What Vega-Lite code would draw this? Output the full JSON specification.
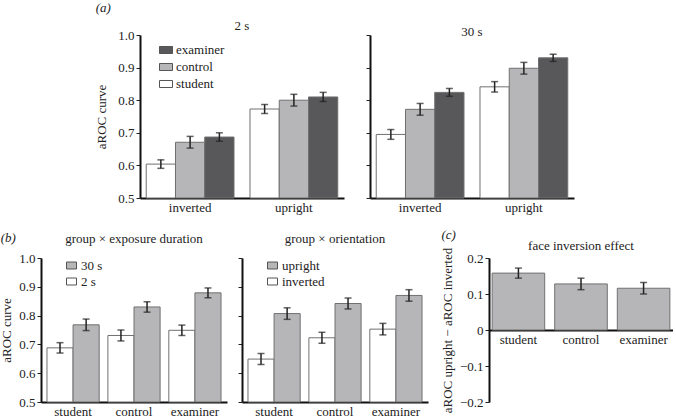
{
  "$schema": "https://vega.github.io/schema/vega-lite/v6.json",
  "padding": {"left": 0, "top": 2, "right": 0, "bottom": 0},
  "background": "white",
  "datasets": {
    "a": [
      {"exposure": "2 s", "orientation": "inverted", "group": "student", "value": 0.604, "err": 0.013},
      {"exposure": "2 s", "orientation": "inverted", "group": "control", "value": 0.671, "err": 0.018},
      {"exposure": "2 s", "orientation": "inverted", "group": "examiner", "value": 0.687, "err": 0.013},
      {"exposure": "2 s", "orientation": "upright", "group": "student", "value": 0.773, "err": 0.014},
      {"exposure": "2 s", "orientation": "upright", "group": "control", "value": 0.800, "err": 0.018},
      {"exposure": "2 s", "orientation": "upright", "group": "examiner", "value": 0.810, "err": 0.014},
      {"exposure": "30 s", "orientation": "inverted", "group": "student", "value": 0.695, "err": 0.015},
      {"exposure": "30 s", "orientation": "inverted", "group": "control", "value": 0.772, "err": 0.018},
      {"exposure": "30 s", "orientation": "inverted", "group": "examiner", "value": 0.824, "err": 0.012},
      {"exposure": "30 s", "orientation": "upright", "group": "student", "value": 0.841, "err": 0.016},
      {"exposure": "30 s", "orientation": "upright", "group": "control", "value": 0.898, "err": 0.018},
      {"exposure": "30 s", "orientation": "upright", "group": "examiner", "value": 0.930, "err": 0.011}
    ],
    "bdur": [
      {"group": "student", "cond": "2 s", "value": 0.688, "err": 0.018},
      {"group": "student", "cond": "30 s", "value": 0.768, "err": 0.020},
      {"group": "control", "cond": "2 s", "value": 0.731, "err": 0.019},
      {"group": "control", "cond": "30 s", "value": 0.830, "err": 0.018},
      {"group": "examiner", "cond": "2 s", "value": 0.749, "err": 0.018},
      {"group": "examiner", "cond": "30 s", "value": 0.879, "err": 0.017}
    ],
    "bori": [
      {"group": "student", "cond": "inverted", "value": 0.649, "err": 0.019},
      {"group": "student", "cond": "upright", "value": 0.807, "err": 0.020},
      {"group": "control", "cond": "inverted", "value": 0.723, "err": 0.019},
      {"group": "control", "cond": "upright", "value": 0.842, "err": 0.019},
      {"group": "examiner", "cond": "inverted", "value": 0.753, "err": 0.020},
      {"group": "examiner", "cond": "upright", "value": 0.870, "err": 0.020}
    ],
    "c": [
      {"group": "student", "value": 0.158, "err": 0.014},
      {"group": "control", "value": 0.128, "err": 0.016},
      {"group": "examiner", "value": 0.116, "err": 0.016}
    ]
  },
  "vconcat": [
    {
      "title": {"text": "(a)", "anchor": "start", "fontStyle": "italic", "offset": 5},
      "bounds": "flush",
      "spacing": 26,
      "resolve": {"scale": {"fill": "independent", "xOffset": "independent"}, "legend": {"fill": "independent"}},
      "hconcat": [
        {
          "width": 204, "height": 163,
          "title": {"text": "2 s", "offset": -4},
          "data": {"name": "a"},
          "transform": [{"filter": "datum.exposure == '2 s'"}],
          "encoding": {
            "x": {"field": "orientation", "type": "nominal", "sort": ["inverted", "upright"], "scale": {"paddingInner": 0.154, "paddingOuter": 0.06}, "axis": {"title": null, "labelAngle": 0, "ticks": false, "labelPadding": 3}},
            "xOffset": {"field": "group", "type": "nominal", "scale": {"domain": ["student", "control", "examiner"], "paddingInner": 0, "paddingOuter": 0}},
            "y": {"field": "value", "type": "quantitative", "scale": {"domain": [0.5, 1.0]}, "axis": {"title": "aROC curve", "values": [0.5, 0.6, 0.7, 0.8, 0.9, 1.0], "format": ".1f", "titlePadding": 9}}
          },
          "layer": [
            {
              "mark": {"type": "bar", "stroke": "#707070", "strokeWidth": 1},
              "encoding": {
                "y2": {"datum": 0.5},
                "fill": {"field": "group", "type": "nominal", "scale": {"domain": ["examiner", "control", "student"], "range": ["#58585a", "#b6b6b8", "#ffffff"]},
                  "legend": {"title": null, "orient": "none", "legendX": 19, "legendY": 8, "symbolType": "M-1,-0.54L1,-0.54L1,0.54L-1,0.54Z", "symbolSize": 169, "symbolStrokeColor": "#555", "symbolStrokeWidth": 1, "labelFontSize": 13, "rowPadding": 3, "labelOffset": 3}}
              }
            },
            {
              "mark": {"type": "errorbar", "ticks": {"size": 7}, "thickness": 1.5, "color": "#222"},
              "encoding": {"yError": {"field": "err"}}
            }
          ]
        },
        {
          "width": 204, "height": 163,
          "title": {"text": "30 s", "offset": -4},
          "data": {"name": "a"},
          "transform": [{"filter": "datum.exposure == '30 s'"}],
          "encoding": {
            "x": {"field": "orientation", "type": "nominal", "sort": ["inverted", "upright"], "scale": {"paddingInner": 0.154, "paddingOuter": 0.06}, "axis": {"title": null, "labelAngle": 0, "ticks": false, "labelPadding": 3}},
            "xOffset": {"field": "group", "type": "nominal", "scale": {"domain": ["student", "control", "examiner"], "paddingInner": 0, "paddingOuter": 0}},
            "y": {"field": "value", "type": "quantitative", "scale": {"domain": [0.5, 1.0]}, "axis": {"title": null, "labels": false, "values": [0.5, 0.6, 0.7, 0.8, 0.9, 1.0]}}
          },
          "layer": [
            {
              "mark": {"type": "bar", "stroke": "#707070", "strokeWidth": 1},
              "encoding": {
                "y2": {"datum": 0.5},
                "fill": {"field": "group", "type": "nominal", "scale": {"domain": ["examiner", "control", "student"], "range": ["#58585a", "#b6b6b8", "#ffffff"]}, "legend": null}
              }
            },
            {
              "mark": {"type": "errorbar", "ticks": {"size": 7}, "thickness": 1.5, "color": "#222"},
              "encoding": {"yError": {"field": "err"}}
            }
          ]
        }
      ]
    },
    {
      "spacing": 13,
      "resolve": {"scale": {"fill": "independent", "xOffset": "independent"}, "legend": {"fill": "independent"}},
      "hconcat": [
        {
          "title": {"text": "(b)", "anchor": "start", "fontStyle": "italic", "offset": -12},
          "bounds": "flush",
          "spacing": 15,
          "resolve": {"scale": {"fill": "independent", "xOffset": "independent"}, "legend": {"fill": "independent"}},
          "hconcat": [
            {
              "width": 186, "height": 144,
              "title": {"text": "group × exposure duration", "offset": 6},
              "data": {"name": "bdur"},
              "encoding": {
                "x": {"field": "group", "type": "nominal", "sort": ["student", "control", "examiner"], "scale": {"paddingInner": 0.143, "paddingOuter": 0.098}, "axis": {"title": null, "labelAngle": 0, "ticks": false, "labelPadding": 3}},
                "xOffset": {"field": "cond", "type": "nominal", "scale": {"domain": ["2 s", "30 s"], "paddingInner": 0, "paddingOuter": 0}},
                "y": {"field": "value", "type": "quantitative", "scale": {"domain": [0.5, 1.0]}, "axis": {"title": "aROC curve", "values": [0.5, 0.6, 0.7, 0.8, 0.9, 1.0], "format": ".1f", "titlePadding": 5}}
              },
              "layer": [
                {
                  "mark": {"type": "bar", "stroke": "#707070", "strokeWidth": 1},
                  "encoding": {
                    "y2": {"datum": 0.5},
                    "fill": {"field": "cond", "type": "nominal", "scale": {"domain": ["30 s", "2 s"], "range": ["#b6b6b8", "#ffffff"]},
                      "legend": {"title": null, "orient": "none", "legendX": 24, "legendY": 1, "symbolType": "M-1,-0.7L1,-0.7L1,0.7L-1,0.7Z", "symbolSize": 100, "symbolStrokeColor": "#555", "symbolStrokeWidth": 1, "labelFontSize": 13, "rowPadding": 2, "labelOffset": 3}}
                  }
                },
                {
                  "mark": {"type": "errorbar", "ticks": {"size": 7}, "thickness": 1.5, "color": "#222"},
                  "encoding": {"yError": {"field": "err"}}
                }
              ]
            },
            {
              "width": 186, "height": 144,
              "title": {"text": "group × orientation", "offset": 12},
              "data": {"name": "bori"},
              "encoding": {
                "x": {"field": "group", "type": "nominal", "sort": ["student", "control", "examiner"], "scale": {"paddingInner": 0.143, "paddingOuter": 0.098}, "axis": {"title": null, "labelAngle": 0, "ticks": false, "labelPadding": 3}},
                "xOffset": {"field": "cond", "type": "nominal", "scale": {"domain": ["inverted", "upright"], "paddingInner": 0, "paddingOuter": 0}},
                "y": {"field": "value", "type": "quantitative", "scale": {"domain": [0.5, 1.0]}, "axis": {"title": null, "labels": false, "values": [0.5, 0.6, 0.7, 0.8, 0.9, 1.0]}}
              },
              "layer": [
                {
                  "mark": {"type": "bar", "stroke": "#707070", "strokeWidth": 1},
                  "encoding": {
                    "y2": {"datum": 0.5},
                    "fill": {"field": "cond", "type": "nominal", "scale": {"domain": ["upright", "inverted"], "range": ["#b6b6b8", "#ffffff"]},
                      "legend": {"title": null, "orient": "none", "legendX": 24, "legendY": 1, "symbolType": "M-1,-0.7L1,-0.7L1,0.7L-1,0.7Z", "symbolSize": 100, "symbolStrokeColor": "#555", "symbolStrokeWidth": 1, "labelFontSize": 13, "rowPadding": 2, "labelOffset": 3}}
                  }
                },
                {
                  "mark": {"type": "errorbar", "ticks": {"size": 7}, "thickness": 1.5, "color": "#222"},
                  "encoding": {"yError": {"field": "err"}}
                }
              ]
            }
          ]
        },
        {
          "title": {"text": "(c)", "anchor": "start", "fontStyle": "italic", "offset": -2},
          "vconcat": [
            {
              "width": 184, "height": 144,
              "title": {"text": "face inversion effect", "offset": -6},
              "data": {"name": "c"},
              "encoding": {
                "x": {"field": "group", "type": "nominal", "sort": ["student", "control", "examiner"], "scale": {"paddingInner": 0.16, "paddingOuter": 0.05}, "axis": {"title": null, "labelAngle": 0, "ticks": false, "labelPadding": 3, "offset": -72}},
                "y": {"field": "value", "type": "quantitative", "scale": {"domain": [-0.2, 0.2]}, "axis": {"title": "aROC upright − aROC inverted", "values": [-0.2, -0.1, 0, 0.1, 0.2], "labelExpr": "datum.value == 0 ? '0' : format(datum.value, '.1f')", "titlePadding": 5}}
              },
              "layer": [
                {
                  "mark": {"type": "bar", "stroke": "#707070", "strokeWidth": 1, "fill": "#b6b6b8"},
                  "encoding": {"y2": {"datum": 0}}
                },
                {
                  "mark": {"type": "errorbar", "ticks": {"size": 7}, "thickness": 1.5, "color": "#222"},
                  "encoding": {"yError": {"field": "err"}}
                }
              ]
            }
          ]
        }
      ]
    }
  ],
  "spacing": 15,
  "center": true,
  "resolve": {"scale": {"fill": "independent", "xOffset": "independent"}, "legend": {"fill": "independent"}},
  "config": {
    "font": "Liberation Serif",
    "view": {"stroke": null},
    "axis": {"grid": false, "domainColor": "#111", "domainWidth": 2, "tickColor": "#222", "tickWidth": 1, "labelFont": "Liberation Serif", "labelFontSize": 13, "labelColor": "#222", "titleFont": "Liberation Serif", "titleFontSize": 13, "titleFontWeight": "normal", "titleColor": "#222"},
    "axisY": {"tickSize": 4, "labelPadding": 2},
    "title": {"font": "Liberation Serif", "fontSize": 13, "fontWeight": "normal", "color": "#222"},
    "legend": {"labelFont": "Liberation Serif", "labelFontSize": 13, "labelColor": "#222"}
  }
}
